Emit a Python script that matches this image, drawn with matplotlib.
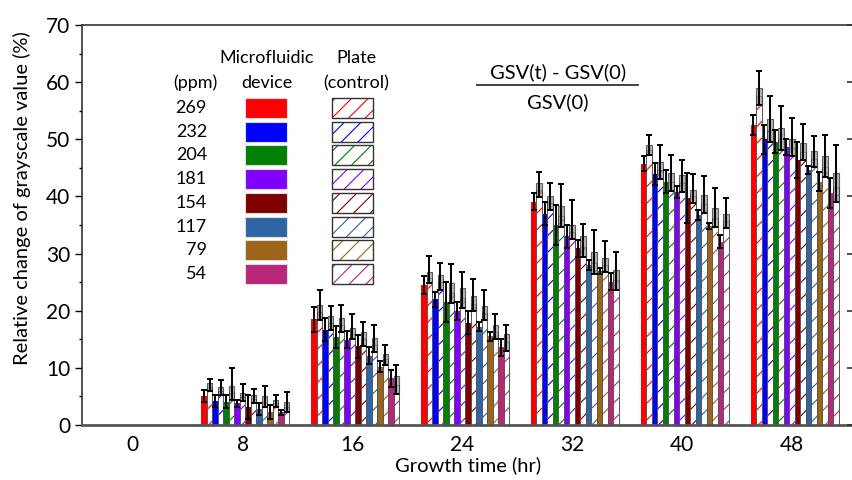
import numpy as np
import matplotlib
matplotlib.use("Agg")
import matplotlib.pyplot as plt
from matplotlib.patches import Rectangle
from matplotlib.lines import Line2D

plt.rcParams['font.family'] = ['Lato', 'DejaVu Sans']
plt.rcParams['hatch.linewidth'] = 0.8

times = [0, 8, 16, 24, 32, 40, 48]
conc = ['269', '232', '204', '181', '154', '117', '79', '54']
colors = ['#ff0000', '#0000ff', '#007f00', '#7f00ff', '#7f0000', '#2f65a5', '#9b6419', '#b8277a']

# microfluidic device (solid bars), one row per time point
device_mean = [[0, 0, 0, 0, 0, 0, 0, 0],
               [5.1, 4.2, 4.1, 3.8, 3.2, 2.8, 2.3, 2.2],
               [18.5, 16.7, 15.4, 14.9, 13.8, 12.1, 10.2, 8.2],
               [24.5, 22.0, 21.6, 20.0, 17.9, 17.2, 15.5, 13.6],
               [39.1, 37.0, 35.0, 33.0, 30.9, 28.0, 27.0, 25.1],
               [45.7, 43.9, 42.6, 40.8, 39.7, 36.8, 34.8, 32.1],
               [52.5, 50.0, 49.6, 48.6, 46.4, 44.6, 42.6, 40.6]]
device_err = [[0, 0, 0, 0, 0, 0, 0, 0],
              [1.0, 1.0, 1.2, 0.6, 2.1, 1.0, 1.2, 0.5],
              [2.2, 2.0, 2.0, 1.5, 2.0, 1.5, 1.0, 1.5],
              [1.5, 1.3, 3.5, 1.6, 2.0, 0.8, 0.8, 1.5],
              [1.5, 2.0, 3.5, 2.0, 1.5, 0.9, 0.5, 1.5],
              [1.3, 1.9, 2.0, 1.0, 4.4, 0.9, 0.5, 1.2],
              [1.8, 2.5, 2.0, 1.4, 3.2, 0.7, 1.7, 2.6]]

# plate control (hatched bars)
plate_mean = [[0, 0, 0, 0, 0, 0, 0, 0],
              [6.6, 6.0, 5.6, 4.9, 4.5, 4.1, 3.8, 3.2],
              [19.7, 17.9, 17.5, 16.0, 15.0, 14.0, 11.5, 7.0],
              [25.8, 25.0, 23.1, 22.2, 21.2, 19.6, 16.3, 14.5],
              [41.1, 38.8, 36.5, 33.8, 31.2, 28.3, 28.0, 25.4],
              [48.1, 44.6, 42.5, 42.3, 40.0, 38.7, 36.3, 35.7],
              [57.5, 51.6, 50.0, 48.5, 47.8, 46.6, 45.2, 41.6]]
plate_err = [[0, 0, 0, 0, 0, 0, 0, 0],
             [1.4, 1.8, 4.4, 2.3, 1.8, 2.7, 1.4, 2.6],
             [3.9, 3.0, 3.5, 3.5, 3.0, 3.5, 2.5, 3.5],
             [3.7, 3.4, 5.1, 4.5, 4.3, 4.0, 3.2, 3.0],
             [3.2, 3.6, 5.7, 5.5, 4.0, 5.8, 4.2, 4.9],
             [2.7, 4.4, 4.8, 4.1, 3.9, 4.9, 5.2, 4.1],
             [4.5, 6.0, 5.8, 5.3, 4.8, 3.9, 5.6, 7.4]]
plate_box = [[0, 0, 0, 0, 0, 0, 0, 0],
             [0.7, 0.7, 1.2, 0.7, 0.7, 0.9, 0.6, 0.9],
             [1.3, 1.2, 1.2, 1.0, 1.2, 1.2, 1.0, 1.6],
             [1.0, 1.3, 1.8, 1.8, 1.3, 1.2, 1.2, 1.5],
             [1.2, 1.2, 1.8, 1.2, 1.8, 1.9, 1.2, 1.8],
             [0.9, 1.5, 1.6, 1.5, 1.2, 1.6, 1.6, 1.3],
             [1.5, 2.0, 1.9, 1.5, 1.5, 1.4, 1.8, 2.5]]

W, H = 852, 480
fig = plt.figure(figsize=(W / 100, H / 100), dpi=100)
ax = fig.add_axes([82 / W, 55 / H, (855 - 82) / W, 400 / H])

w = 0.4
shift = 0.2
for i, t in enumerate(times):
    if max(device_mean[i]) == 0:
        continue
    for k in range(8):
        xs = t + shift + (2 * k - 7.5) * w
        xp = t + shift + (2 * k + 1 - 7.5) * w
        # solid bar
        ax.bar(xs, device_mean[i][k], width=w, color=colors[k], edgecolor='none', zorder=2)
        ax.errorbar(xs, device_mean[i][k], yerr=device_err[i][k], fmt='none',
                    ecolor='black', elinewidth=1.4, capsize=2, capthick=1.4, zorder=5)
        # hatched plate bar
        ax.bar(xp, plate_mean[i][k], width=w, color='white', edgecolor=colors[k],
               hatch='//', linewidth=0, zorder=2)
        ax.bar(xp, plate_mean[i][k], width=w, color='none', edgecolor='#555555',
               linewidth=0.7, zorder=3)
        b = plate_box[i][k]
        ax.bar(xp, 2 * b, bottom=plate_mean[i][k] - b, width=w, color='#9a9a9a',
               alpha=0.75, edgecolor='#333333', linewidth=0.8, zorder=4)
        ax.errorbar(xp, plate_mean[i][k], yerr=[[b], [plate_err[i][k]]], fmt='none',
                    ecolor='black', elinewidth=1.4, capsize=2, capthick=1.4, zorder=5)

ax.set_xlim(-3.7, 52.6)
ax.set_ylim(0, 70)
ax.set_xticks(times)
ax.set_xticklabels([str(t) for t in times])
ax.set_yticks(range(0, 71, 10))
ax.set_yticks(range(5, 70, 10), minor=True)
ax.tick_params(axis='x', length=0, labelsize=15, pad=7)
ax.tick_params(axis='y', which='major', length=5, width=1, labelsize=15, direction='out')
ax.tick_params(axis='y', which='minor', length=2.5, width=1, direction='out')
for sp in ax.spines.values():
    sp.set_linewidth(1.2)
    sp.set_color('#333333')
ax.spines['bottom'].set_color('#555555')
ax.spines['bottom'].set_linewidth(2)

# right-hand ticks pointing inward
axr = ax.twinx()
axr.set_ylim(0, 70)
axr.set_yticks(range(0, 71, 10))
axr.tick_params(axis='y', direction='in', length=6, width=1.2, labelright=False, color='#333333')
for sp in axr.spines.values():
    sp.set_visible(False)

ax.set_xlabel('Growth time (hr)', fontsize=14.5, labelpad=1)
ax.set_ylabel('Relative change of grayscale value (%)', fontsize=14.5)
ax.yaxis.set_label_coords(-0.066, 0.567)


def fx(x):
    return x / W


def fy(y):
    return 1 - y / H


# legend block drawn in figure pixels
fs = 13
fig.text(fx(195), fy(83), '(ppm)', ha='center', va='center', fontsize=fs)
fig.text(fx(267), fy(58), 'Microfluidic', ha='center', va='center', fontsize=fs)
fig.text(fx(267), fy(83), 'device', ha='center', va='center', fontsize=fs)
fig.text(fx(356), fy(58), 'Plate', ha='center', va='center', fontsize=fs)
fig.text(fx(356), fy(83), '(control)', ha='center', va='center', fontsize=fs)
for k in range(8):
    yc = 108 + 23.7 * k
    fig.text(fx(207), fy(yc), conc[k], ha='right', va='center', fontsize=fs)
    fig.add_artist(Rectangle((fx(245), fy(yc + 10)), 42 / W, 20 / H, transform=fig.transFigure,
                             facecolor=colors[k], edgecolor='#dddddd', linewidth=0.8))
    fig.add_artist(Rectangle((fx(332), fy(yc + 10)), 41 / W, 20 / H, transform=fig.transFigure,
                             facecolor='white', edgecolor=colors[k], hatch='//', linewidth=0))
    fig.add_artist(Rectangle((fx(332), fy(yc + 10)), 41 / W, 20 / H, transform=fig.transFigure,
                             facecolor='none', edgecolor='#333333', linewidth=1))

# formula
fig.text(fx(558), fy(72), 'GSV(t) - GSV(0)', ha='center', va='center', fontsize=14.5)
fig.add_artist(Line2D([fx(477), fx(638)], [fy(85), fy(85)], transform=fig.transFigure,
                      color='#333333', linewidth=1.3))
fig.text(fx(558), fy(102), 'GSV(0)', ha='center', va='center', fontsize=14.5)

fig.savefig('out.png', dpi=100)
